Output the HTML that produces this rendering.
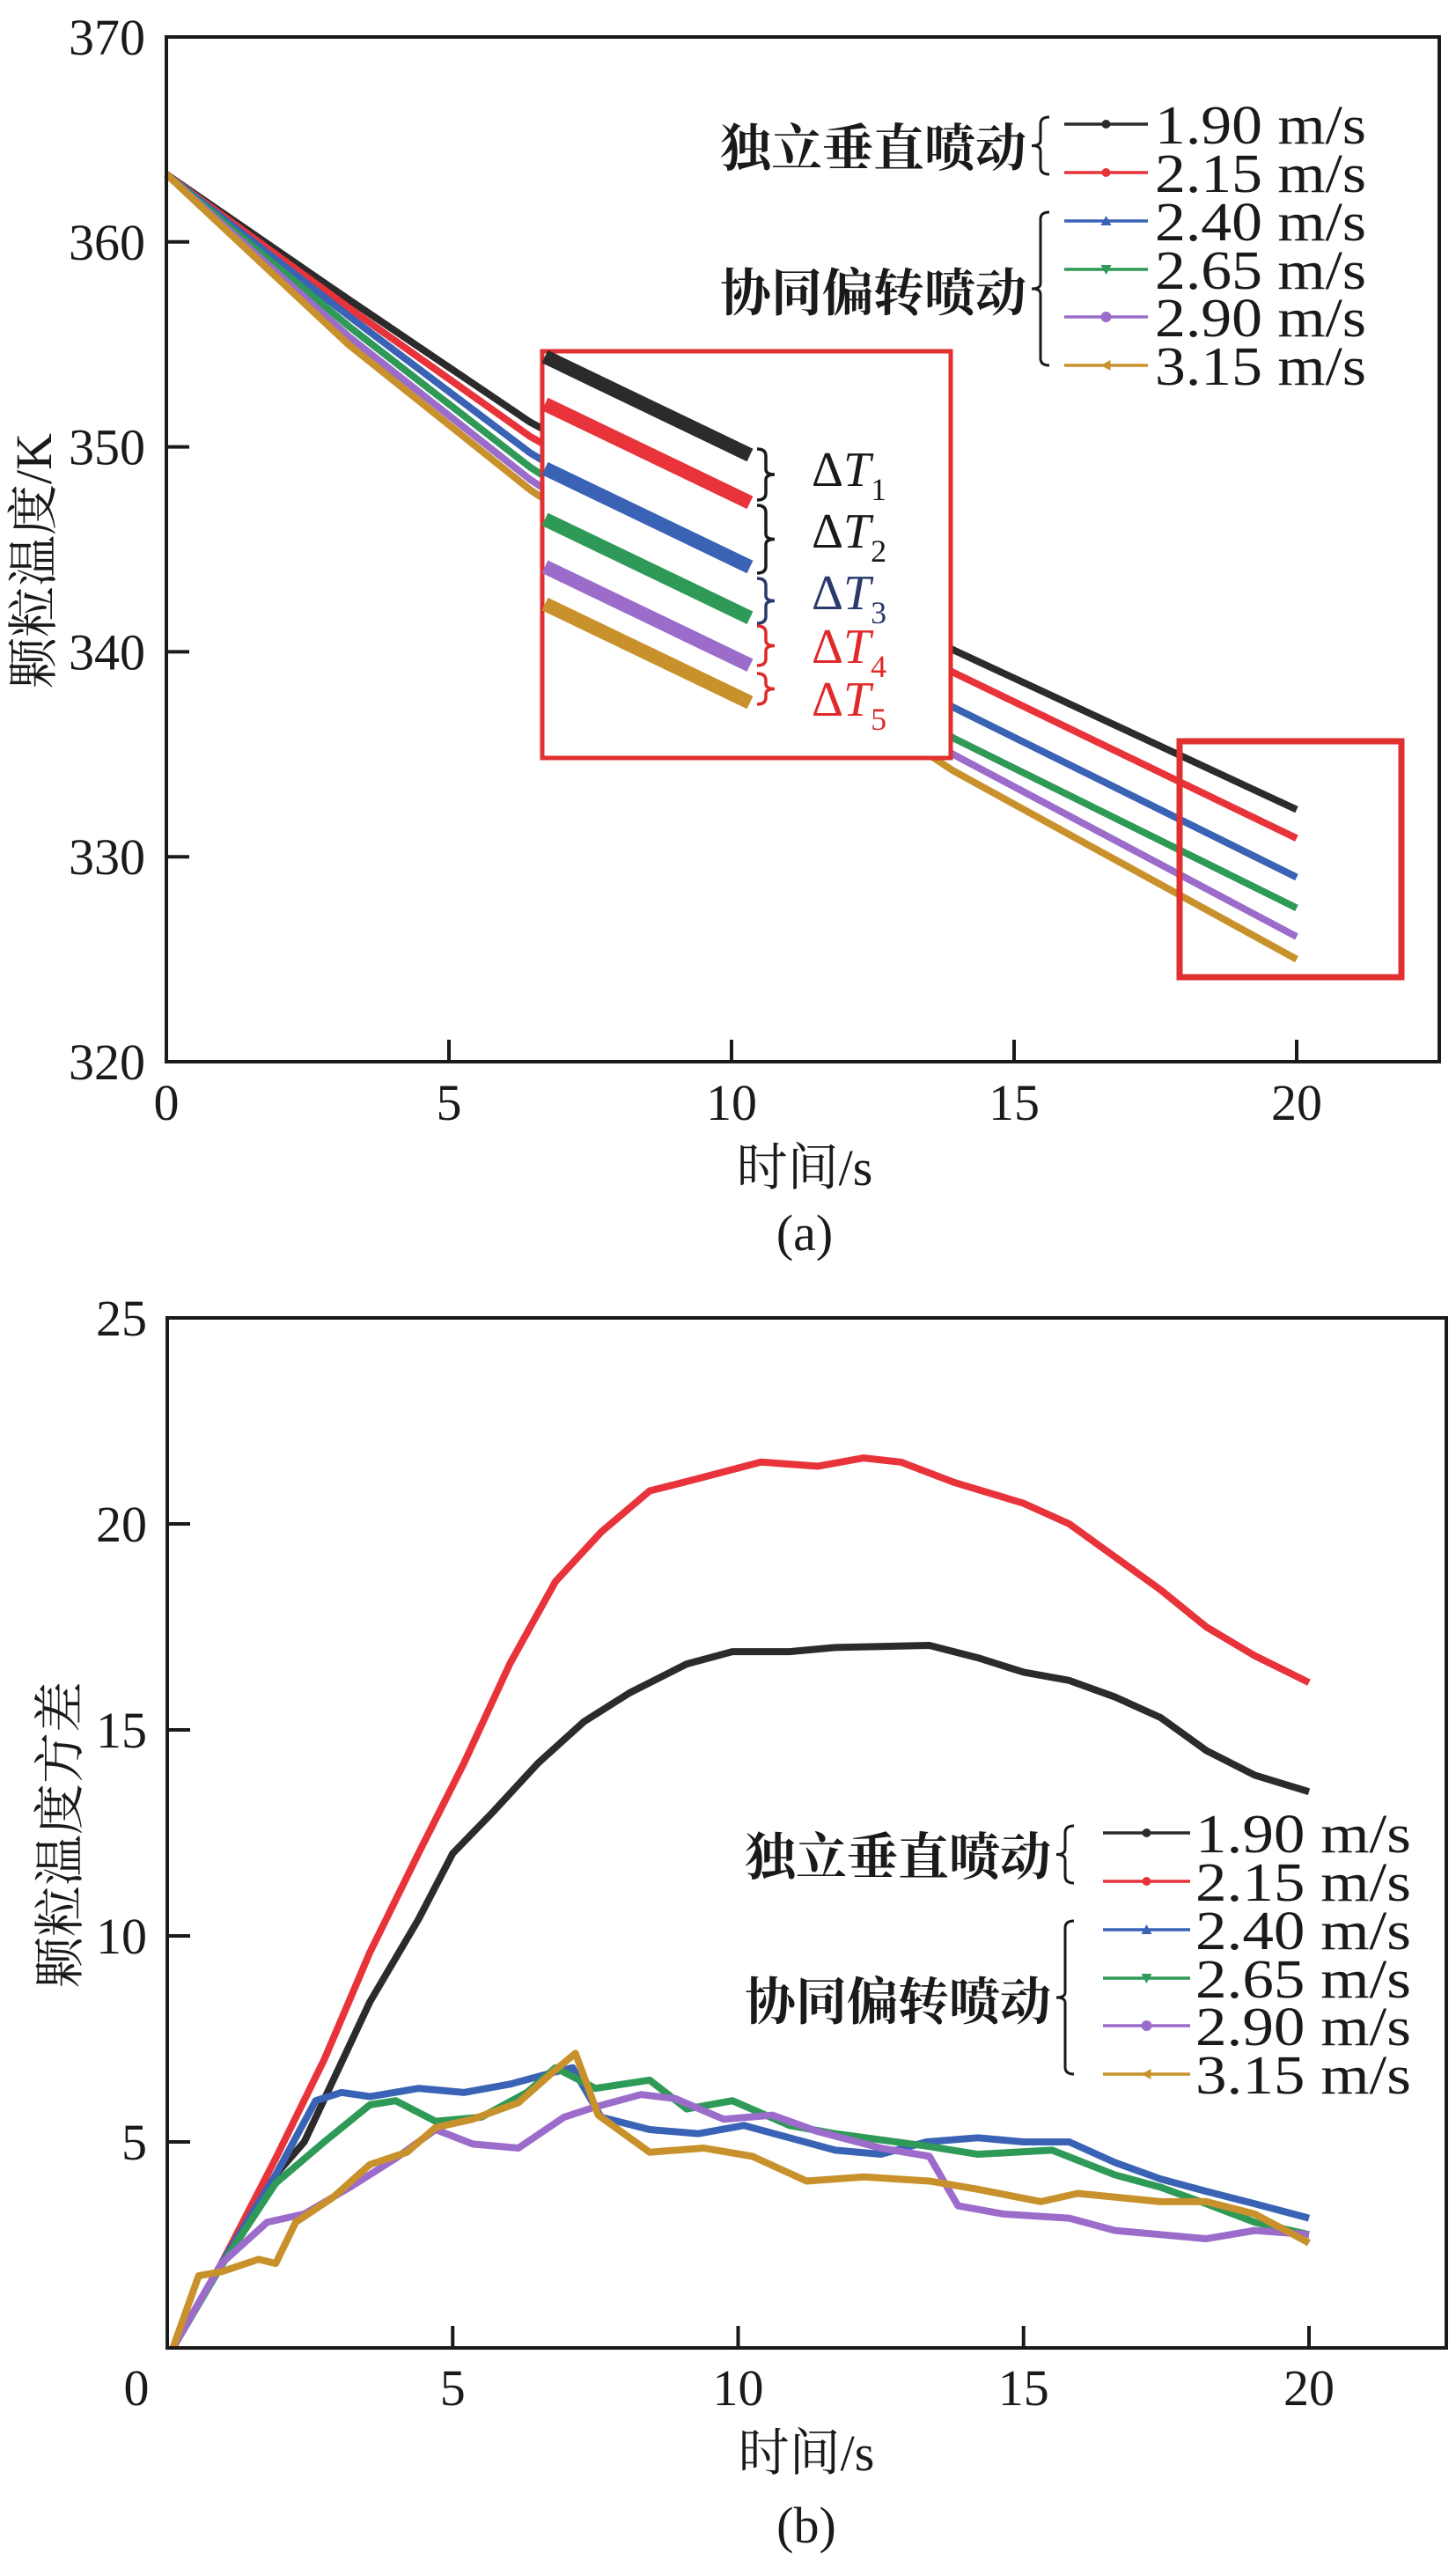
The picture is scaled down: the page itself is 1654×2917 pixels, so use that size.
<!DOCTYPE html>
<html><head><meta charset="utf-8">
<style>
html,body{margin:0;padding:0;background:#fff;}
svg{display:block;}
.tick{font-family:"Liberation Serif",serif;font-size:58px;fill:#1a1a1a;}
.cjk{font-family:"Liberation Serif","Noto Serif CJK SC",serif;font-size:58px;fill:#1a1a1a;}
.leg{font-family:"Liberation Serif",serif;font-size:62px;fill:#1a1a1a;}
</style></head>
<body>
<svg id="chart" width="1654" height="2917" viewBox="0 0 1654 2917" xmlns="http://www.w3.org/2000/svg">
<rect width="1654" height="2917" fill="#fff"/>
<g id="ga"></g>
<g id="gb"></g>
</svg>
<script>
// ---------- data ----------
const labels = ["1.90 m/s","2.15 m/s","2.40 m/s","2.65 m/s","2.90 m/s","3.15 m/s"];
const colors = ["#2b2b2b","#e8333a","#3a63b6","#2f9a57","#9c6ccb","#c8912b"];
// panel a: particle temperature (K)
const tA = [0, 3.22, 6.44, 13.92, 20];
const a190 = [363.3, 357.2, 351.2, 340.1, 332.3];
const a215 = [363.3, 356.8, 350.5, 339.0, 330.9];
const a240 = [363.3, 356.4, 349.7, 337.3, 329.0];
const a265 = [363.3, 355.9, 349.0, 335.8, 327.5];
const a290 = [363.3, 355.4, 348.4, 335.0, 326.1];
const a315 = [363.3, 355.0, 347.9, 334.2, 325.0];
const yTicksA = [320,330,340,350,360,370];
const xTicks = [0,5,10,15,20];
// panel b: temperature variance
const t190 = [0.1,0.95,1.9,2.4,3.55,4.4,5.0,5.7,6.5,7.3,8.1,9.1,9.9,10.9,11.7,13.35,14.2,15.0,15.8,16.6,17.4,18.2,19.05,20];
const b190 = [0,2.05,4.2,5.0,8.4,10.4,12.0,13.0,14.2,15.2,15.9,16.6,16.9,16.9,17.0,17.05,16.75,16.4,16.2,15.8,15.3,14.5,13.9,13.5];
const t215 = [0.1,0.95,1.9,2.75,3.55,4.4,5.2,6.0,6.8,7.6,8.45,9.3,10.4,11.4,12.2,12.85,13.8,15.0,15.8,16.6,17.4,18.2,19.05,20];
const b215 = [0,2.05,4.6,7.0,9.6,12.0,14.2,16.6,18.6,19.8,20.8,21.1,21.5,21.4,21.6,21.5,21.0,20.5,20.0,19.2,18.4,17.5,16.8,16.15];
const t240 = [0.1,0.95,1.9,2.6,3.05,3.55,4.4,5.2,6.0,6.8,7.1,7.6,8.45,9.3,10.1,10.9,11.7,12.5,13.3,14.2,15.0,15.8,16.6,17.4,18.2,19.05,20];
const b240 = [0,2.05,4.2,6.0,6.2,6.1,6.3,6.2,6.4,6.7,6.8,5.6,5.3,5.2,5.4,5.1,4.8,4.7,5.0,5.1,5.0,5.0,4.5,4.1,3.8,3.5,3.15];
const t265 = [0.1,0.95,1.9,2.75,3.55,4.0,4.7,5.5,6.3,6.8,7.5,8.45,9.1,9.9,10.9,11.7,13.3,14.2,15.5,16.6,17.4,18.2,19.05,20];
const b265 = [0,2.0,4.0,5.0,5.9,6.0,5.5,5.6,6.2,6.8,6.3,6.5,5.8,6.0,5.4,5.2,4.9,4.7,4.8,4.2,3.9,3.5,3.05,2.75];
const t290 = [0.1,0.95,1.75,2.4,3.2,4.0,4.7,5.35,6.15,6.95,7.5,8.3,8.9,9.75,10.6,11.4,12.5,13.35,13.85,14.65,15.8,16.6,17.4,18.2,19.05,20];
const b290 = [0,2.05,3.05,3.25,3.9,4.6,5.3,4.95,4.85,5.6,5.85,6.15,6.05,5.55,5.65,5.25,4.85,4.65,3.45,3.25,3.15,2.85,2.75,2.65,2.85,2.75];
const t315 = [0.1,0.55,0.95,1.6,1.9,2.25,2.9,3.55,4.2,4.7,5.35,6.15,6.8,7.15,7.55,8.45,9.4,10.25,11.2,12.2,13.35,14.2,15.3,15.95,17.4,18.2,19.05,20];
const b315 = [0,1.75,1.85,2.15,2.05,3.05,3.65,4.45,4.75,5.35,5.55,5.95,6.75,7.15,5.65,4.75,4.85,4.65,4.05,4.15,4.05,3.85,3.55,3.75,3.55,3.55,3.25,2.55];
const yTicksB = [5,10,15,20,25];

// ---------- helpers ----------
const NS="http://www.w3.org/2000/svg";
function mk(parent, tag, attrs, text){
  const e=document.createElementNS(NS,tag);
  for(const k in attrs) e.setAttribute(k,attrs[k]);
  if(text!==undefined) e.textContent=text;
  parent.appendChild(e); return e;
}
function bracePath(x, y1, y2, dir){
  const m=(y1+y2)/2, w=10*dir;
  return `M${x} ${y1} Q${x+w} ${y1} ${x+w} ${y1+8} L${x+w} ${m-6} Q${x+w} ${m} ${x+2*w} ${m} Q${x+w} ${m} ${x+w} ${m+6} L${x+w} ${y2-8} Q${x+w} ${y2} ${x} ${y2}`;
}

// ---------- panel a ----------
const ga=document.getElementById('ga');
const A={l:189,r:1635,t:42,b:1206};
const xA=t=>A.l+t*(1473-189)/20;
const yA=v=>A.b-(v-320)*(A.b-A.t)/50;
const seriesA=[a190,a215,a240,a265,a290,a315];
seriesA.forEach((s,i)=>{
  const p=mk(ga,'polyline',{points:tA.map((t,j)=>xA(t)+','+yA(s[j])).join(' '),fill:'none',stroke:colors[i],'stroke-width':8,'stroke-linejoin':'round'});
  
  
});
const ins=mk(ga,'rect',{x:616,y:399,width:464,height:462,fill:'#fff',stroke:'#e03030','stroke-width':5});


const yIns=v=>517+(a190[4]-v)*38.5;
seriesA.forEach((s,i)=>{
  const ye=yIns(s[4]);
  const p=mk(ga,'line',{x1:619,y1:ye-112,x2:852,y2:ye,stroke:colors[i],'stroke-width':16});
  
  
});
const dts=[["1",510,568,"#1a1a1a",552],["2",574,651,"#1a1a1a",622],["3",657,708,"#2b3a6b",692],["4",711,756,"#e02a2a",753],["5",765,800,"#e02a2a",813]];
dts.forEach(d=>{
  const b=mk(ga,'path',{d:bracePath(860,d[1],d[2],1),fill:'none',stroke:d[3],'stroke-width':3.5});
  
  
  const t=mk(ga,'text',{x:922,y:d[4],class:'tick',style:'font-size:56px;fill:'+d[3]});
  
  
  mk(t,'tspan',{},'Δ');
  mk(t,'tspan',{'font-style':'italic'},'T');
  mk(t,'tspan',{dy:16,style:'font-size:36px'},d[0]);
});
const sq=mk(ga,'rect',{x:1340,y:842,width:252,height:268,fill:'none',stroke:'#e03030','stroke-width':7});


const fa=mk(ga,'rect',{x:A.l,y:A.t,width:A.r-A.l,height:A.b-A.t,fill:'none',stroke:'#1a1a1a','stroke-width':4});


yTicksA.forEach(v=>{
  if(v>320&&v<370) mk(ga,'line',{x1:A.l,x2:A.l+26,y1:yA(v),y2:yA(v),stroke:'#1a1a1a','stroke-width':4});
  const t=mk(ga,'text',{x:165,y:yA(v)+20,'text-anchor':'end',class:'tick'},String(v));
  
  
});
xTicks.forEach(v=>{
  if(v>0) mk(ga,'line',{x1:xA(v),x2:xA(v),y1:A.b,y2:A.b-25,stroke:'#1a1a1a','stroke-width':4});
  const t=mk(ga,'text',{x:xA(v),y:1272,'text-anchor':'middle',class:'tick'},String(v));
  
  
});
let tt=mk(ga,'text',{x:0,y:0,'text-anchor':'middle',class:'cjk',transform:'translate(58,637) rotate(-90)'},'颗粒温度/K');


tt=mk(ga,'text',{x:914,y:1346,'text-anchor':'middle',class:'cjk'},'时间/s');


tt=mk(ga,'text',{x:914,y:1420,'text-anchor':'middle',class:'tick'},'(a)');



// ---------- legend ----------
function marker(g,i,x,y){
  const c=colors[i];
  if(i<2) mk(g,'circle',{cx:x,cy:y,r:5,fill:c});
  else if(i===2) mk(g,'path',{d:`M${x-6} ${y+5} L${x+6} ${y+5} L${x} ${y-6}Z`,fill:c});
  else if(i===3) mk(g,'path',{d:`M${x-6} ${y-5} L${x+6} ${y-5} L${x} ${y+6}Z`,fill:c});
  else if(i===4) mk(g,'circle',{cx:x,cy:y,r:6,fill:c});
  else mk(g,'path',{d:`M${x+5} ${y-6} L${x+5} ${y+6} L${x-6} ${y}Z`,fill:c});
}
function legend(g,suffix,rowY,x1,x2,tx,braceX,tl){
  rowY.forEach((y,i)=>{
    const e=mk(g,'g',{});
    
    
    mk(e,'line',{x1:x1,x2:x2,y1:y,y2:y,stroke:colors[i],'stroke-width':3.5});
    marker(e,i,(x1+x2)/2,y);
    mk(e,'text',{x:tx,y:y+22,class:'leg',textLength:tl,lengthAdjust:'spacingAndGlyphs'},labels[i]);
  });
  const b1=mk(g,'path',{d:bracePath(braceX+20,rowY[0]-8,rowY[1]+2,-1),fill:'none',stroke:'#1a1a1a','stroke-width':3});
  
  
  const b2=mk(g,'path',{d:bracePath(braceX+20,rowY[2]-10,rowY[5],-1),fill:'none',stroke:'#1a1a1a','stroke-width':3});
  
  
  let t=mk(g,'text',{x:braceX-6,y:(rowY[0]+rowY[1])/2+20,'text-anchor':'end',class:'cjk','font-weight':'bold'},'独立垂直喷动');
  
  
  t=mk(g,'text',{x:braceX-6,y:(rowY[2]+rowY[5])/2+20,'text-anchor':'end',class:'cjk','font-weight':'bold'},'协同偏转喷动');
  
  
}
const legA=mk(ga,'g',{});


legend(legA,'a',[141,196,251,306,360,415],1209,1304,1312,1172,240);

// ---------- panel b ----------
const gb=document.getElementById('gb');
const B={l:190,r:1643,t:1497,b:2667};
const xB=t=>B.l+t*(1487-190)/20;
const yB=v=>B.b-v*(B.b-B.t)/25;
const tsB=[t190,t215,t240,t265,t290,t315];
const vsB=[b190,b215,b240,b265,b290,b315];
[0,1,2,3,4,5].forEach(i=>{
  const p=mk(gb,'polyline',{points:tsB[i].map((t,j)=>xB(t)+','+yB(vsB[i][j])).join(' '),fill:'none',stroke:colors[i],'stroke-width':8,'stroke-linejoin':'round'});
  
  
});
const fb=mk(gb,'rect',{x:B.l,y:B.t,width:B.r-B.l,height:B.b-B.t,fill:'none',stroke:'#1a1a1a','stroke-width':4});


yTicksB.forEach(v=>{
  if(v<25) mk(gb,'line',{x1:B.l,x2:B.l+26,y1:yB(v),y2:yB(v),stroke:'#1a1a1a','stroke-width':4});
  const t=mk(gb,'text',{x:167,y:yB(v)+20,'text-anchor':'end',class:'tick'},String(v));
  
  
});
xTicks.forEach(v=>{
  if(v>0) mk(gb,'line',{x1:xB(v),x2:xB(v),y1:B.b,y2:B.b-25,stroke:'#1a1a1a','stroke-width':4});
  const t=mk(gb,'text',{x:v===0?155:xB(v),y:2732,'text-anchor':'middle',class:'tick'},String(v));
  
  
});
tt=mk(gb,'text',{x:0,y:0,'text-anchor':'middle',class:'cjk',transform:'translate(88,2084) rotate(-90)'},'颗粒温度方差');


tt=mk(gb,'text',{x:916,y:2806,'text-anchor':'middle',class:'cjk'},'时间/s');


tt=mk(gb,'text',{x:916,y:2888,'text-anchor':'middle',class:'tick'},'(b)');


const legB=mk(gb,'g',{});


legend(legB,'b',[2082,2137,2192,2247,2301,2356],1253,1352,1358,1200,245);
</script>
</body></html>
